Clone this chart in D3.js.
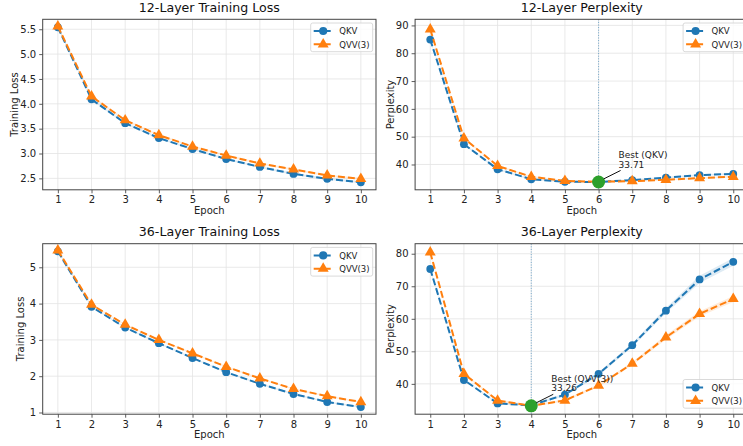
<!DOCTYPE html>
<html>
<head>
<meta charset="utf-8">
<script src="https://cdn.jsdelivr.net/npm/d3@7"></script>
<style>
  body { margin: 0; background: #fff; }
  svg { display: block; font-family: "DejaVu Sans", sans-serif; }
  .tick text { fill: #222; }
</style>
</head>
<body>
<script>
// epochs shared by every panel
const epochs = [1, 2, 3, 4, 5, 6, 7, 8, 9, 10];

// 12-layer training loss
const loss12Qkv = [5.54, 4.09, 3.61, 3.31, 3.09, 2.89, 2.73, 2.59, 2.49, 2.42];
const loss12Qvv = [5.56, 4.15, 3.67, 3.37, 3.14, 2.96, 2.80, 2.68, 2.56, 2.49];
// 12-layer perplexity
const ppl12Qkv = [84.9, 47.3, 38.3, 34.7, 33.8, 33.71, 34.4, 35.3, 36.2, 36.6];
const ppl12Qvv = [88.6, 49.4, 39.5, 35.6, 34.1, 33.8, 34.0, 34.5, 35.1, 35.6];
// 36-layer training loss
const loss36Qkv = [5.44, 3.91, 3.34, 2.91, 2.50, 2.11, 1.79, 1.51, 1.29, 1.15];
const loss36Qvv = [5.47, 3.97, 3.42, 3.00, 2.63, 2.26, 1.94, 1.65, 1.45, 1.29];
// 36-layer perplexity
const ppl36Qkv = [75.3, 41.2, 34.0, 33.4, 36.7, 43.1, 51.9, 62.5, 72.1, 77.5];
const ppl36Qvv = [80.4, 43.1, 34.9, 33.26, 34.9, 39.5, 46.2, 54.3, 61.5, 66.1];
// spread bands (std) drawn around the lines
const bandSmall = [0.02, 0.02, 0.02, 0.02, 0.02, 0.02, 0.02, 0.02, 0.02, 0.02];
const bandPpl12 = [0.4, 0.3, 0.3, 0.3, 0.3, 0.3, 0.3, 0.3, 0.3, 0.3];
const bandPpl36Qkv = [0.3, 0.3, 0.3, 0.3, 0.4, 0.5, 0.6, 0.8, 1.1, 1.2];
const bandPpl36Qvv = [0.3, 0.3, 0.3, 0.3, 0.3, 0.4, 0.5, 0.7, 0.8, 0.9];

// tick labels
const lossTicks12 = [2.5, 3.0, 3.5, 4.0, 4.5, 5.0, 5.5];
const pplTicks12 = [40, 50, 60, 70, 80, 90];
const lossTicks36 = [1, 2, 3, 4, 5];
const pplTicks36 = [40, 50, 60, 70, 80];

const seriesNames = ["QKV", "QVV(3)"];
const blue = "#1f77b4", orange = "#ff7f0e", green = "#2ca02c";

const svg = d3.select("body").append("svg").attr("width", 743).attr("height", 446);

const panels = [
  { title: "12-Layer Training Loss", ylabel: "Training Loss", left: 42.7, top: 19.3,
    ydom: [2.27, 5.70], ticks: lossTicks12, fmt: d3.format(".1f"),
    qkv: loss12Qkv, qvv: loss12Qvv, sQkv: bandSmall, sQvv: bandSmall, legend: "top", ylx: 17.5 },
  { title: "12-Layer Perplexity", ylabel: "Perplexity", left: 415.1, top: 19.3,
    ydom: [30.9, 92.2], ticks: pplTicks12, fmt: d3.format("d"),
    qkv: ppl12Qkv, qvv: ppl12Qvv, sQkv: bandPpl12, sQvv: bandPpl12, legend: "top", ylx: 393.5,
    best: { epoch: 6, value: 33.71, label: "Best (QKV)" } },
  { title: "36-Layer Training Loss", ylabel: "Training Loss", left: 42.7, top: 243.7,
    ydom: [0.953, 5.65], ticks: lossTicks36, fmt: d3.format("d"),
    qkv: loss36Qkv, qvv: loss36Qvv, sQkv: bandSmall, sQvv: bandSmall, legend: "top", ylx: 24 },
  { title: "36-Layer Perplexity", ylabel: "Perplexity", left: 415.1, top: 243.7,
    ydom: [30.68, 83.08], ticks: pplTicks36, fmt: d3.format("d"),
    qkv: ppl36Qkv, qvv: ppl36Qvv, sQkv: bandPpl36Qkv, sQvv: bandPpl36Qvv, legend: "bottom", ylx: 393.5,
    best: { epoch: 4, value: 33.26, label: "Best (QVV(3))" } }
];

const pw = 333.3, ph = 170.5;

panels.forEach(p => drawPanel(p));

function drawPanel(p) {
  const g = svg.append("g").attr("transform", `translate(${p.left},${p.top})`);
  const x = d3.scaleLinear().domain([0.55, 10.45]).range([0, pw]);
  const y = d3.scaleLinear().domain(p.ydom).range([ph, 0]);

  // grid
  g.append("g").selectAll("line").data(epochs).join("line")
    .attr("x1", d => x(d)).attr("x2", d => x(d)).attr("y1", 0).attr("y2", ph)
    .attr("stroke", "#e3e3e3").attr("stroke-width", 0.8);
  g.append("g").selectAll("line").data(p.ticks).join("line")
    .attr("y1", d => y(d)).attr("y2", d => y(d)).attr("x1", 0).attr("x2", pw)
    .attr("stroke", "#e3e3e3").attr("stroke-width", 0.8);

  const clip = "clip" + p.left + "_" + p.top;
  g.append("clipPath").attr("id", clip).append("rect").attr("width", pw).attr("height", ph);
  const plot = g.append("g").attr("clip-path", `url(#${clip})`);

  // best-epoch vertical line
  if (p.best) {
    plot.append("line").attr("x1", x(p.best.epoch)).attr("x2", x(p.best.epoch))
      .attr("y1", 0).attr("y2", ph).attr("stroke", blue).attr("stroke-opacity", 0.6)
      .attr("stroke-width", 1).attr("stroke-dasharray", "1,1.6");
  }

  const series = [
    { vals: p.qkv, sd: p.sQkv, color: blue, shape: d3.symbolCircle },
    { vals: p.qvv, sd: p.sQvv, color: orange, shape: d3.symbolTriangle }
  ];

  series.forEach(s => {
    const area = d3.area().x((d, i) => x(epochs[i]))
      .y0((d, i) => y(d - s.sd[i])).y1((d, i) => y(d + s.sd[i]));
    plot.append("path").datum(s.vals).attr("d", area).attr("fill", s.color).attr("opacity", 0.15);
  });
  series.forEach(s => {
    const line = d3.line().x((d, i) => x(epochs[i])).y(d => y(d));
    plot.append("path").datum(s.vals).attr("d", line).attr("fill", "none")
      .attr("stroke", s.color).attr("stroke-width", 2).attr("stroke-dasharray", "7,3");
    plot.append("g").selectAll("path").data(s.vals).join("path")
      .attr("transform", (d, i) => `translate(${x(epochs[i])},${y(d)})`)
      .attr("d", d3.symbol().type(s.shape).size(s.shape === d3.symbolCircle ? 48 : 52))
      .attr("fill", s.color);
  });

  // axes
  const xAxis = g.append("g").attr("transform", `translate(0,${ph})`)
    .call(d3.axisBottom(x).tickValues(epochs).tickSize(3.5).tickPadding(3).tickFormat(d3.format("d")));
  const yAxis = g.append("g")
    .call(d3.axisLeft(y).tickValues(p.ticks).tickSize(3.5).tickPadding(3).tickFormat(p.fmt));
  [xAxis, yAxis].forEach(a => {
    a.select(".domain").remove();
    a.selectAll(".tick line").attr("stroke", "#333").attr("stroke-width", 0.8);
    a.selectAll(".tick text").attr("font-size", 10).attr("font-family", "DejaVu Sans");
  });
  g.append("rect").attr("width", pw).attr("height", ph).attr("fill", "none")
    .attr("stroke", "#444").attr("stroke-width", 1);

  // best marker and annotation
  if (p.best) {
    const bx = x(p.best.epoch), by = y(p.best.value);
    g.append("circle").attr("cx", bx).attr("cy", by).attr("r", 6.5).attr("fill", green);
    g.append("line").attr("x1", bx + 5).attr("y1", by - 3).attr("x2", bx + 22).attr("y2", by - 11.5)
      .attr("stroke", "#111").attr("stroke-width", 1);
    const t = g.append("text").attr("x", bx + 20).attr("y", by - 24)
      .attr("font-size", 9).attr("fill", "#222");
    t.append("tspan").attr("x", bx + 20).text(p.best.label);
    t.append("tspan").attr("x", bx + 20).attr("dy", 9.7).text(p.best.value.toFixed(2));
  }

  // titles and labels
  g.append("text").attr("x", pw / 2).attr("y", p.top < 100 ? -7.3 : -7.7)
    .attr("text-anchor", "middle").attr("font-size", 12.6).attr("fill", "#111").text(p.title);
  g.append("text").attr("x", pw / 2).attr("y", ph + 24.3)
    .attr("text-anchor", "middle").attr("font-size", 10).attr("fill", "#222").text("Epoch");
  svg.append("text").attr("transform", `translate(${p.ylx},${p.top + ph / 2}) rotate(-90)`)
    .attr("text-anchor", "middle").attr("font-size", 10).attr("fill", "#222").text(p.ylabel);

  // legend
  const lw = 62, lh = 28.7;
  const lx = pw - lw - 3.3;
  const ly = p.legend === "top" ? 3.7 : ph - lh - 6;
  const leg = g.append("g").attr("transform", `translate(${lx},${ly})`);
  leg.append("rect").attr("width", lw).attr("height", lh).attr("rx", 2)
    .attr("fill", "#fff").attr("fill-opacity", 0.8).attr("stroke", "#d0d0d0").attr("stroke-width", 0.8);
  series.forEach((s, i) => {
    const ry = 8 + i * 13.3;
    leg.append("line").attr("x1", 3).attr("x2", 22).attr("y1", ry).attr("y2", ry)
      .attr("stroke", s.color).attr("stroke-width", 2).attr("stroke-dasharray", "7,3");
    leg.append("path").attr("transform", `translate(12.5,${ry})`)
      .attr("d", d3.symbol().type(s.shape).size(52)).attr("fill", s.color);
    leg.append("text").attr("x", 28.5).attr("y", ry + 3.2).attr("font-size", 8.5)
      .attr("fill", "#222").text(seriesNames[i]);
  });
}
</script>
</body>
</html>
